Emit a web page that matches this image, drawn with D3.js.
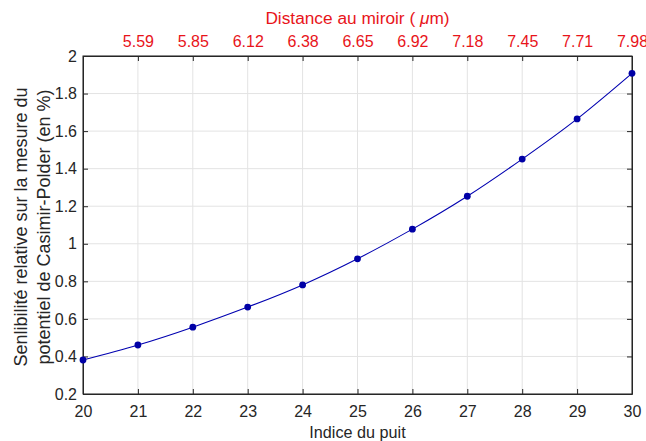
<!DOCTYPE html>
<html><head><meta charset="utf-8">
<script src="https://cdn.jsdelivr.net/npm/d3@7"></script>
<style>body{margin:0;background:#fff}svg{display:block}text{font-family:"Liberation Sans",Arial,sans-serif}</style>
</head><body><svg id="c" width="646" height="441"></svg>
<script>
const wellIndex = [20,21,22,23,24,25,26,27,28,29,30];
const sensitivity = [0.381,0.461,0.556,0.663,0.781,0.920,1.078,1.253,1.451,1.665,1.908];
const topTickPos = [21,22,23,24,25,26,27,28,29,30];
const topTickLabels = ["5.59","5.85","6.12","6.38","6.65","6.92","7.18","7.45","7.71","7.98"];
const yTicks = [0.2,0.4,0.6,0.8,1,1.2,1.4,1.6,1.8,2];

(function(){
const svg = d3.select("#c");
const L=83,R=632,T=56,B=394;
const x = d3.scaleLinear().domain([20,30]).range([L,R]);
const y = d3.scaleLinear().domain([0.2,2]).range([B,T]);
const axisCol="#262626", gridCol="#e3e3e3";

// grid
svg.append("g").selectAll("line").data(wellIndex).join("line")
  .attr("x1",d=>x(d)).attr("x2",d=>x(d)).attr("y1",T).attr("y2",B)
  .attr("stroke",gridCol).attr("stroke-width",1);
svg.append("g").selectAll("line").data(yTicks).join("line")
  .attr("x1",L).attr("x2",R).attr("y1",d=>y(d)).attr("y2",d=>y(d))
  .attr("stroke",gridCol).attr("stroke-width",1);

// axes
const gBottom = svg.append("g").attr("transform",`translate(0,${B})`)
  .call(d3.axisBottom(x).tickValues(wellIndex).tickSizeInner(-5).tickSizeOuter(0).tickPadding(11.6).tickFormat(d3.format("d")));
const gLeft = svg.append("g").attr("transform",`translate(${L},0)`)
  .call(d3.axisLeft(y).tickValues(yTicks).tickSizeInner(-5).tickSizeOuter(0).tickPadding(6).tickFormat(d=>String(d)));
const gTop = svg.append("g").attr("transform",`translate(0,${T})`)
  .call(d3.axisTop(x).tickValues(topTickPos).tickSizeInner(-5).tickSizeOuter(0).tickPadding(9).tickFormat((d,i)=>topTickLabels[i]));
const gRight = svg.append("g").attr("transform",`translate(${R},0)`)
  .call(d3.axisRight(y).tickValues(yTicks).tickSizeInner(-5).tickSizeOuter(0).tickFormat(""));
[gBottom,gLeft,gRight,gTop].forEach(g=>{
  g.selectAll("text").attr("fill",axisCol).style("font-size","16px").style("font-family","Liberation Sans, Arial, sans-serif");
  g.selectAll("line").attr("stroke",axisCol);
  g.select(".domain").attr("stroke",axisCol);
});
gTop.selectAll("text").attr("fill","#e8141a");
svg.append("rect").attr("x",L).attr("y",T).attr("width",R-L).attr("height",B-T)
  .attr("fill","none").attr("stroke",axisCol).attr("stroke-width",1);

// curve
const pts = wellIndex.map((d,i)=>[d,sensitivity[i]]);
svg.append("path").datum(pts)
  .attr("d",d3.line().x(d=>x(d[0])).y(d=>y(d[1])).curve(d3.curveNatural))
  .attr("fill","none").attr("stroke","#0000b0").attr("stroke-width",1.1);
svg.append("g").selectAll("circle").data(pts).join("circle")
  .attr("cx",d=>x(d[0])).attr("cy",d=>y(d[1])).attr("r",3.4).attr("fill","#0000a6");

// labels
svg.append("text").attr("x",(L+R)/2).attr("y",438).attr("text-anchor","middle")
  .style("font-size","16.2px").attr("fill",axisCol).text("Indice du puit");
const tt = svg.append("text").attr("x",(L+R)/2).attr("y",24).attr("text-anchor","middle")
  .style("font-size","17.3px").attr("fill","#e8141a");
tt.append("tspan").text("Distance au miroir ( ");
tt.append("tspan").attr("font-style","italic").text("μ");
tt.append("tspan").text("m)");
const yl = svg.append("text").attr("transform",`translate(0,${(T+B)/2+2}) rotate(-90)`)
  .attr("text-anchor","middle").style("font-size","18px").attr("fill",axisCol);
yl.append("tspan").attr("x",0).attr("y",27).text("Senlibilité relative sur la mesure du");
yl.append("tspan").attr("x",0).attr("y",49.5).text("potentiel de Casimir-Polder (en %)");
})();
</script></body></html>
